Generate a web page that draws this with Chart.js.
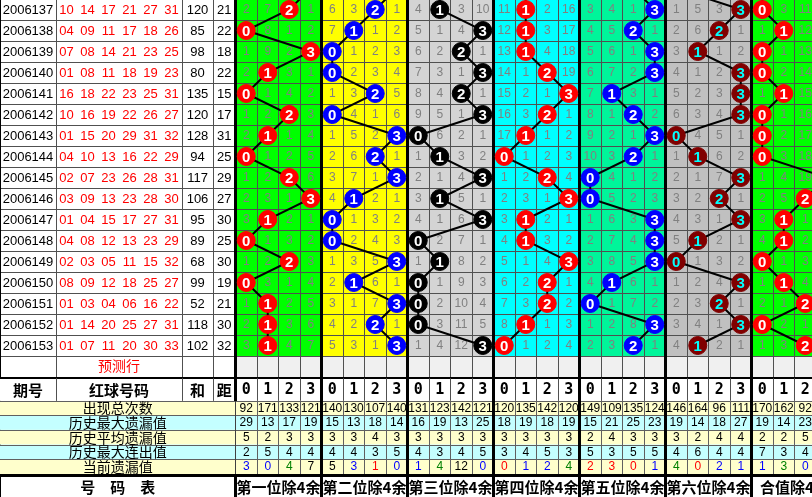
<!DOCTYPE html>
<html><head><meta charset="utf-8">
<script src="https://cdn.jsdelivr.net/npm/chart.js@4.4.0/dist/chart.umd.min.js"></script>
<style>html,body{margin:0;padding:0;background:#fff;overflow:hidden}#wrap{width:812px;height:497px;position:relative}</style>
</head><body><div id="wrap"><canvas id="c"></canvas></div>
<script>
// ---------------- data ----------------
const periods = ['2006137','2006138','2006139','2006140','2006141','2006142','2006143','2006144','2006145','2006146','2006147','2006148','2006149','2006150','2006151','2006152','2006153'];
const redBalls = [[10,14,17,21,27,31],[4,9,11,17,18,26],[7,8,14,21,23,25],[1,8,11,18,19,23],[16,18,22,23,25,31],[10,16,19,22,26,27],[1,15,20,29,31,32],[4,10,13,16,22,29],[2,7,23,26,28,31],[3,9,13,23,28,30],[1,4,15,17,27,31],[4,8,12,13,23,29],[2,3,5,11,15,32],[8,9,12,18,25,27],[1,3,4,6,16,22],[1,14,20,25,27,31],[1,7,11,20,30,33]];
const sums = [120,85,98,80,135,120,128,94,117,106,95,89,68,99,52,118,102];
const spans = [21,22,18,22,15,17,31,25,29,27,30,25,30,19,21,30,32];
const groupTitles = ['第一位除4余','第二位除4余','第三位除4余','第四位除4余','第五位除4余','第六位除4余','合值除4余'];
const remainderLabels = ['0','1','2','3'];
const headerLabels = ['期号','红球号码','和','距'];
const forecastLabel = '预测行';
const footerLabel = '号　码　表';
const statLabels = ['出现总次数','历史最大遗漏值','历史平均遗漏值','历史最大连出值','当前遗漏值'];

// hit remainder per period, per group
const hitsG1 = [2,0,3,1,0,2,1,0,2,3,1,0,2,0,1,1,1];
const hitsG2 = [2,1,0,0,2,0,3,2,3,1,0,0,3,1,3,2,3];
const hitsG3 = [1,3,2,3,2,3,0,1,3,1,3,0,1,0,0,0,3];
const hitsG4 = [1,1,1,2,3,2,1,0,2,3,1,1,3,2,2,1,0];
const hitsG5 = [3,2,3,3,1,2,3,2,0,0,3,3,3,1,0,3,2];
const hitsG6 = [3,2,1,3,3,3,0,1,3,2,3,1,0,3,2,3,1];
const hitsG7 = [0,1,0,0,1,0,0,0,3,2,1,1,0,1,2,0,2];
// previous period (2006136) hits, estimated from line stubs at the top edge
const prevHits = [3,3,1,1,2,0,0];

const n = null;
const omitG1 = [[2,7,n,1],[n,8,1,2],[1,9,2,n],[2,n,3,1],[n,1,4,2],[1,2,n,3],[2,n,1,4],[n,1,2,5],[1,2,n,6],[2,3,1,n],[3,n,2,1],[n,1,3,2],[1,2,n,3],[n,3,1,4],[1,n,2,5],[2,n,3,6],[3,n,4,7]];
const omitG2 = [[6,3,n,1],[7,n,1,2],[n,1,2,3],[n,2,3,4],[1,3,n,5],[n,4,1,6],[1,5,2,n],[2,6,n,1],[3,7,1,n],[4,n,2,1],[n,1,3,2],[n,2,4,3],[1,3,5,n],[2,n,6,1],[3,1,7,n],[4,2,n,1],[5,3,1,n]];
const omitG3 = [[4,n,3,10],[5,1,4,n],[6,2,n,1],[7,3,1,n],[8,4,n,1],[9,5,1,n],[n,6,2,1],[1,n,3,2],[2,1,4,n],[3,n,5,1],[4,1,6,n],[n,2,7,1],[1,n,8,2],[n,1,9,3],[n,2,10,4],[n,3,11,5],[1,4,12,n]];
const omitG4 = [[11,n,2,16],[12,n,3,17],[13,n,4,18],[14,1,n,19],[15,2,1,n],[16,3,n,1],[17,n,1,2],[n,1,2,3],[1,2,n,4],[2,3,1,n],[3,n,2,1],[4,n,3,2],[5,1,4,n],[6,2,n,1],[7,3,n,2],[8,n,1,3],[n,1,2,4]];
const omitG5 = [[3,4,1,n],[4,5,n,1],[5,6,1,n],[6,7,2,n],[7,n,3,1],[8,1,n,2],[9,2,1,n],[10,3,n,1],[n,4,1,2],[n,5,2,3],[1,6,3,n],[2,7,4,n],[3,8,5,n],[4,n,6,1],[n,1,7,2],[1,2,8,n],[2,3,n,1]];
const omitG6 = [[1,5,3,n],[2,6,n,1],[3,n,1,2],[4,1,2,n],[5,2,3,n],[6,3,4,n],[n,4,5,1],[1,n,6,2],[2,1,7,n],[3,2,n,1],[4,3,1,n],[5,n,2,1],[n,1,3,2],[1,2,4,n],[2,3,n,1],[3,4,1,n],[4,n,2,1]];
const omitG7 = [[n,3,11,4],[1,n,12,5],[n,1,13,6],[n,2,14,7],[1,n,15,8],[n,1,16,9],[n,2,17,10],[n,3,18,11],[1,4,19,n],[2,5,n,1],[3,n,1,2],[4,n,2,3],[n,1,3,4],[1,n,4,5],[2,1,n,6],[n,2,1,7],[1,3,n,8]];

const totalCounts = [[92,171,133,121],[140,130,107,140],[131,123,142,121],[120,135,142,120],[149,109,135,124],[146,164,96,111],[170,162,92,76]];
const maxOmits = [[29,13,17,19],[15,13,18,14],[16,19,13,25],[18,19,18,19],[15,21,25,23],[19,14,18,27],[19,14,23,20]];
const avgOmits = [[5,2,3,3],[3,3,4,3],[3,3,3,3],[3,3,3,3],[2,4,3,3],[3,2,4,4],[2,2,5,5]];
const maxRuns = [[2,5,4,4],[4,4,3,5],[4,3,4,5],[3,4,5,3],[5,3,5,5],[4,6,4,4],[7,3,4,3]];
const currentOmits = [[3,0,4,7],[5,3,1,0],[1,4,12,0],[0,1,2,4],[2,3,0,1],[4,0,2,1],[1,3,0,8]];

// ---------------- styles ----------------
const B='#0000ff', G='#008000', R='#ff0000', K='#000000';
const currentColors = [[B,B,G,K],[K,B,R,B],[B,G,K,B],[R,B,B,G],[R,R,R,B],[G,R,B,B],[B,G,B,K]];
const groupBg = ['#00ff00','#ffff00','#d4d4d4','#00ffff','#00f59a','#c0c0c0','#00ff00'];
const ballFill = ['#ff0000','#0000ff','#000000','#ff0000','#0000ff','#800000','#ff0000'];
const ballText = ['#ffffff','#ffffff','#ffffff','#ffffff','#ffffff','#00ffff','#ffffff'];

const allHits = [hitsG1,hitsG2,hitsG3,hitsG4,hitsG5,hitsG6,hitsG7];
const allOmits = [omitG1,omitG2,omitG3,omitG4,omitG5,omitG6,omitG7];
const statTables = [totalCounts,maxOmits,avgOmits,maxRuns,currentOmits];

// ---------------- layout (scale units) ----------------
const XMIN=-10.9535, XMAX=26.814, YMIN=0.048, YMAX=23.715;
const xQ=-8.349, xN=-2.488, xH=-1.047;      // left table column edges
const numStep=21/21.5;                       // red-ball spacing
const yHeadTop=18.06, yStat=[19.14,19.83,20.52,21.22,21.92,22.62], yFootTop=22.74;
const NROWS=periods.length;

const SANS='"Liberation Sans", Arial, sans-serif';
const CJK='"Noto Sans CJK SC", sans-serif';

const tablePlugin = {
  id:'table',
  beforeDatasetsDraw(chart){
    const ctx=chart.ctx, xs=chart.scales.x, ys=chart.scales.y;
    const X=v=>xs.getPixelForValue(v), Y=v=>ys.getPixelForValue(v);
    const hline=(x1,x2,y,c,w)=>{ctx.strokeStyle=c;ctx.lineWidth=w;ctx.beginPath();ctx.moveTo(X(x1),Math.round(Y(y))+(w%2?0.5:0));ctx.lineTo(X(x2),Math.round(Y(y))+(w%2?0.5:0));ctx.stroke();};
    const vline=(x,y1,y2,c,w)=>{ctx.strokeStyle=c;ctx.lineWidth=w;ctx.beginPath();const px=Math.round(X(x))+(w%2?0.5:0);ctx.moveTo(px,Y(y1));ctx.lineTo(px,Y(y2));ctx.stroke();};
    const text=(s,x,y,font,color,dy)=>{ctx.font=font;ctx.fillStyle=color;ctx.textAlign='center';ctx.textBaseline='middle';ctx.fillText(s,X(x),Y(y)+(dy===undefined?0.5:dy));};
    const rect=(x1,y1,x2,y2,c)=>{ctx.fillStyle=c;ctx.fillRect(X(x1),Y(y1),X(x2)-X(x1),Y(y2)-Y(y1));};
    ctx.save();
    rect(XMIN,YMIN,XMAX,YMAX,'#ffffff');
    for(let g=0;g<7;g++) rect(4*g,-1,4*g+4,NROWS,groupBg[g]);
    rect(0,NROWS,28,NROWS+1,'#f0f0f0');
    for(let r=1;r<=NROWS+1;r++) hline(XMIN,28,r,'#505050',1);
    for(let c=1;c<28;c++) if(c%4) vline(c,-1,yStat[5],'#505050',1);
    [xQ,xN,xH].forEach(x=>vline(x,-1,yStat[0],'#505050',1));
    vline(XMIN+0.02,-1,YMAX,'#000',2);
    for(let i=0;i<NROWS;i++){
      const cy=i+0.5;
      text(periods[i],(XMIN+xQ)/2,cy,'13px '+SANS,'#000');
      redBalls[i].forEach((b,k)=>text(String(b).padStart(2,'0'),xQ+(10.5/21.5)+k*numStep,cy,'13px '+SANS,'#ff0000'));
      text(String(sums[i]),(xN+xH)/2,cy,'13px '+SANS,'#000');
      text(String(spans[i]),(xH+0)/2,cy,'13px '+SANS,'#000');
    }
    text(forecastLabel,(xQ+xN)/2,NROWS+0.45,'14px '+CJK,'#ff0000');
    allOmits.forEach((tab,g)=>tab.forEach((row,i)=>row.forEach((v,j)=>{ if(v!==null) text(String(v),4*g+j+0.5,i+0.5,'12px '+SANS,'#808080'); })));
    rect(XMIN,yHeadTop,XMAX,yStat[0],'#ffffff');
    hline(XMIN,28,yHeadTop-0.02,'#000',2);
    const hy=(yHeadTop+yStat[0])/2;
    for(let c=1;c<28;c++) if(c%4) vline(c,yHeadTop,yStat[0],'#505050',1);
    [xQ,xN,xH].forEach(x=>vline(x,yHeadTop,yStat[0],'#505050',1));
    text(headerLabels[0],(XMIN+xQ)/2,hy,'bold 15px '+CJK,'#000');
    text(headerLabels[1],(xQ+xN)/2,hy,'bold 15px '+CJK,'#000');
    text(headerLabels[2],(xN+xH)/2,hy,'bold 15px '+CJK,'#000');
    text(headerLabels[3],(xH+0)/2,hy,'bold 15px '+CJK,'#000');
    for(let g=0;g<7;g++) remainderLabels.forEach((l,j)=>text(l,4*g+j+0.5,hy,'bold 15px "DejaVu Sans Mono", monospace','#000'));
    for(let s=0;s<5;s++) rect(XMIN,yStat[s],XMAX,yStat[s+1],s%2?'#c4ffff':'#ffffcc');
    for(let s=0;s<=5;s++) hline(XMIN,28,yStat[s],'#606060',1);
    for(let c=1;c<28;c++) if(c%4) vline(c,yStat[0],yStat[5],'#606060',1);
    vline(0,yStat[0],yStat[5],'#404040',1);
    for(let s=0;s<5;s++){
      const cy=(yStat[s]+yStat[s+1])/2;
      text(statLabels[s],XMIN/2,cy,'14px '+CJK,'#000',0);
      statTables[s].forEach((grp,g)=>grp.forEach((v,j)=>text(String(v),4*g+j+0.5,cy,'12px '+SANS,s===4?currentColors[g][j]:'#000')));
    }
    hline(XMIN,28,(yStat[5]+yFootTop)/2,'#000',3);
    const fy=(yFootTop+YMAX)/2;
    text(footerLabel,XMIN/2,fy,'bold 15px '+CJK,'#000');
    groupTitles.forEach((t,g)=>text(t,4*g+2,fy,'bold 15px '+CJK,'#000'));
    for(let g=0;g<=7;g++){
      if(g===0){ vline(0,-1,yStat[0],'#000',3); vline(0,yStat[5],YMAX,'#000',3); }
      else vline(4*g,-1,YMAX,'#000',3);
    }
    ctx.restore();
  },
  afterDatasetsDraw(chart){
    const ctx=chart.ctx;
    ctx.save();
    ctx.font='bold 15px '+SANS; ctx.textAlign='center'; ctx.textBaseline='middle';
    chart.data.datasets.forEach((ds,g)=>{
      const meta=chart.getDatasetMeta(g);
      meta.data.forEach((pt,i)=>{
        if(i===0) return;
        ctx.fillStyle=ballText[g];
        ctx.fillText(String(allHits[g][i-1]),pt.x,pt.y+1);
      });
    });
    ctx.restore();
  }
};

const datasets = allHits.map((hits,g)=>({
  type:'line',
  data:[{x:4*g+prevHits[g]+0.5,y:-0.5}].concat(hits.map((h,i)=>({x:4*g+h+0.5,y:i+0.5}))),
  borderColor:'#000', borderWidth:2, tension:0, fill:false,
  pointRadius:9, pointHoverRadius:9, pointBorderWidth:1,
  pointBackgroundColor:ballFill[g], pointBorderColor:ballFill[g],
  clip:false
}));

new Chart(document.getElementById('c'),{
  type:'scatter',
  data:{datasets},
  options:{
    responsive:true, maintainAspectRatio:false, animation:false, events:[],
    layout:{padding:0, autoPadding:false},
    plugins:{legend:{display:false},tooltip:{enabled:false},title:{display:false}},
    scales:{
      x:{type:'linear',min:XMIN,max:XMAX,display:false},
      y:{type:'linear',min:YMIN,max:YMAX,reverse:true,display:false}
    }
  },
  plugins:[tablePlugin]
});
</script></body></html>
